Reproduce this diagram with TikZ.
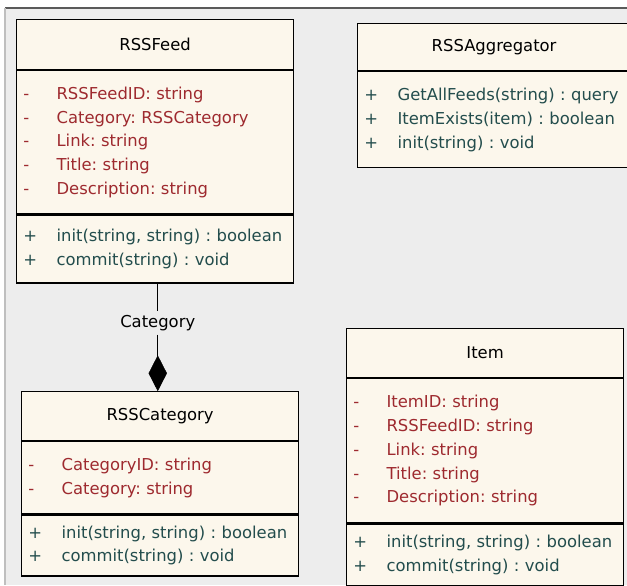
\documentclass[tikz,border=0pt]{standalone}
\usepackage{fontspec}
\setmainfont{DejaVu Sans}
\usetikzlibrary{positioning, shapes.geometric}
\definecolor{umlbg}{HTML}{EDEDED}
\definecolor{umlfill}{HTML}{FCF7EC}
\definecolor{umlred}{HTML}{9E2A2F}
\definecolor{umlteal}{HTML}{234D4D}
\definecolor{umlframe}{HTML}{5A5A5A}
\newcommand{\umlrow}[2]{\makebox[1.0cm][l]{#1}#2}
\frenchspacing

\begin{document}
\begin{tikzpicture}[x=0.03cm, y=-0.03cm,
    font=\fontsize{14}{20.3}\selectfont,
    classhead/.style={draw=black, fill=umlfill, line width=1pt, text=black,
          minimum width=8.31cm, align=center, inner sep=0pt},
    classbody/.style={draw=black, fill=umlfill, line width=1pt,
          text width=7.91cm, align=left, inner xsep=0.2cm, inner ysep=0.1cm},
    attrtext/.style={classbody, text=umlred},
    optext/.style={classbody, text=umlteal}]
  % page and frame
  \useasboundingbox (0,0) rectangle (627,585);
  \clip (0,0) rectangle (627,585);
  \fill[white] (0,0) rectangle (627,585);
  \fill[umlbg] (5,8) rectangle (627,585);
  \draw[umlframe, line width=1pt] (5,8) -- (627,8);
  \draw[gray!50, line width=1pt] (5,8) -- (5,585);

  % RSSFeed
  \node[classhead, anchor=north west, minimum height=1.5cm] (feed) at (16,19) {RSSFeed};
  \node[attrtext, below=0pt of feed, minimum height=4.29cm] (feedattr)
    {\umlrow{-}{RSSFeedID:~string}\\ \umlrow{-}{Category:~RSSCategory}\\
     \umlrow{-}{Link:~string}\\ \umlrow{-}{Title:~string}\\
     \umlrow{-}{Description:~string}};
  \node[optext, below=0pt of feedattr, minimum height=2.04cm] (feedops)
    {\umlrow{+}{init(string, string) : boolean}\\ \umlrow{+}{commit(string) : void}};

  % RSSAggregator
  \node[classhead, anchor=north west, minimum width=8.19cm, minimum height=1.41cm] (agg)
    at (357,23) {RSSAggregator};
  \node[optext, text width=7.79cm, below=0pt of agg, minimum height=2.88cm] (aggops)
    {\umlrow{+}{GetAllFeeds(string) : query}\\ \umlrow{+}{ItemExists(item) : boolean}\\
     \umlrow{+}{init(string) : void}};

  % RSSCategory
  \node[classhead, anchor=north west, minimum height=1.47cm] (cat) at (21,391) {RSSCategory};
  \node[attrtext, below=0pt of cat, minimum height=2.16cm] (catattr)
    {\umlrow{-}{CategoryID:~string}\\ \umlrow{-}{Category:~string}};
  \node[optext, below=0pt of catattr, minimum height=1.83cm] (catops)
    {\umlrow{+}{init(string, string) : boolean}\\ \umlrow{+}{commit(string) : void}};

  % Item
  \node[classhead, anchor=north west, minimum height=1.47cm] (item) at (346,328) {Item};
  \node[attrtext, below=0pt of item, minimum height=4.32cm] (itemattr)
    {\umlrow{-}{ItemID:~string}\\ \umlrow{-}{RSSFeedID:~string}\\
     \umlrow{-}{Link:~string}\\ \umlrow{-}{Title:~string}\\
     \umlrow{-}{Description:~string}};
  \node[optext, below=0pt of itemattr, minimum height=1.86cm] (itemops)
    {\umlrow{+}{init(string, string) : boolean}\\ \umlrow{+}{commit(string) : void}};

  % composition RSSFeed -- RSSCategory
  \node[diamond, draw=black, fill=black, inner sep=0pt, minimum width=0.54cm,
        minimum height=1.05cm, anchor=south] (dia) at ([xshift=-0.07cm]cat.north) {};
  \node[fill=umlbg, inner sep=3pt] (lbl) at (dia.north |- 0,323) {Category};
  \draw[line width=1pt] (feedops.south -| dia.north) -- (lbl) -- (dia);
\end{tikzpicture}
\end{document}
